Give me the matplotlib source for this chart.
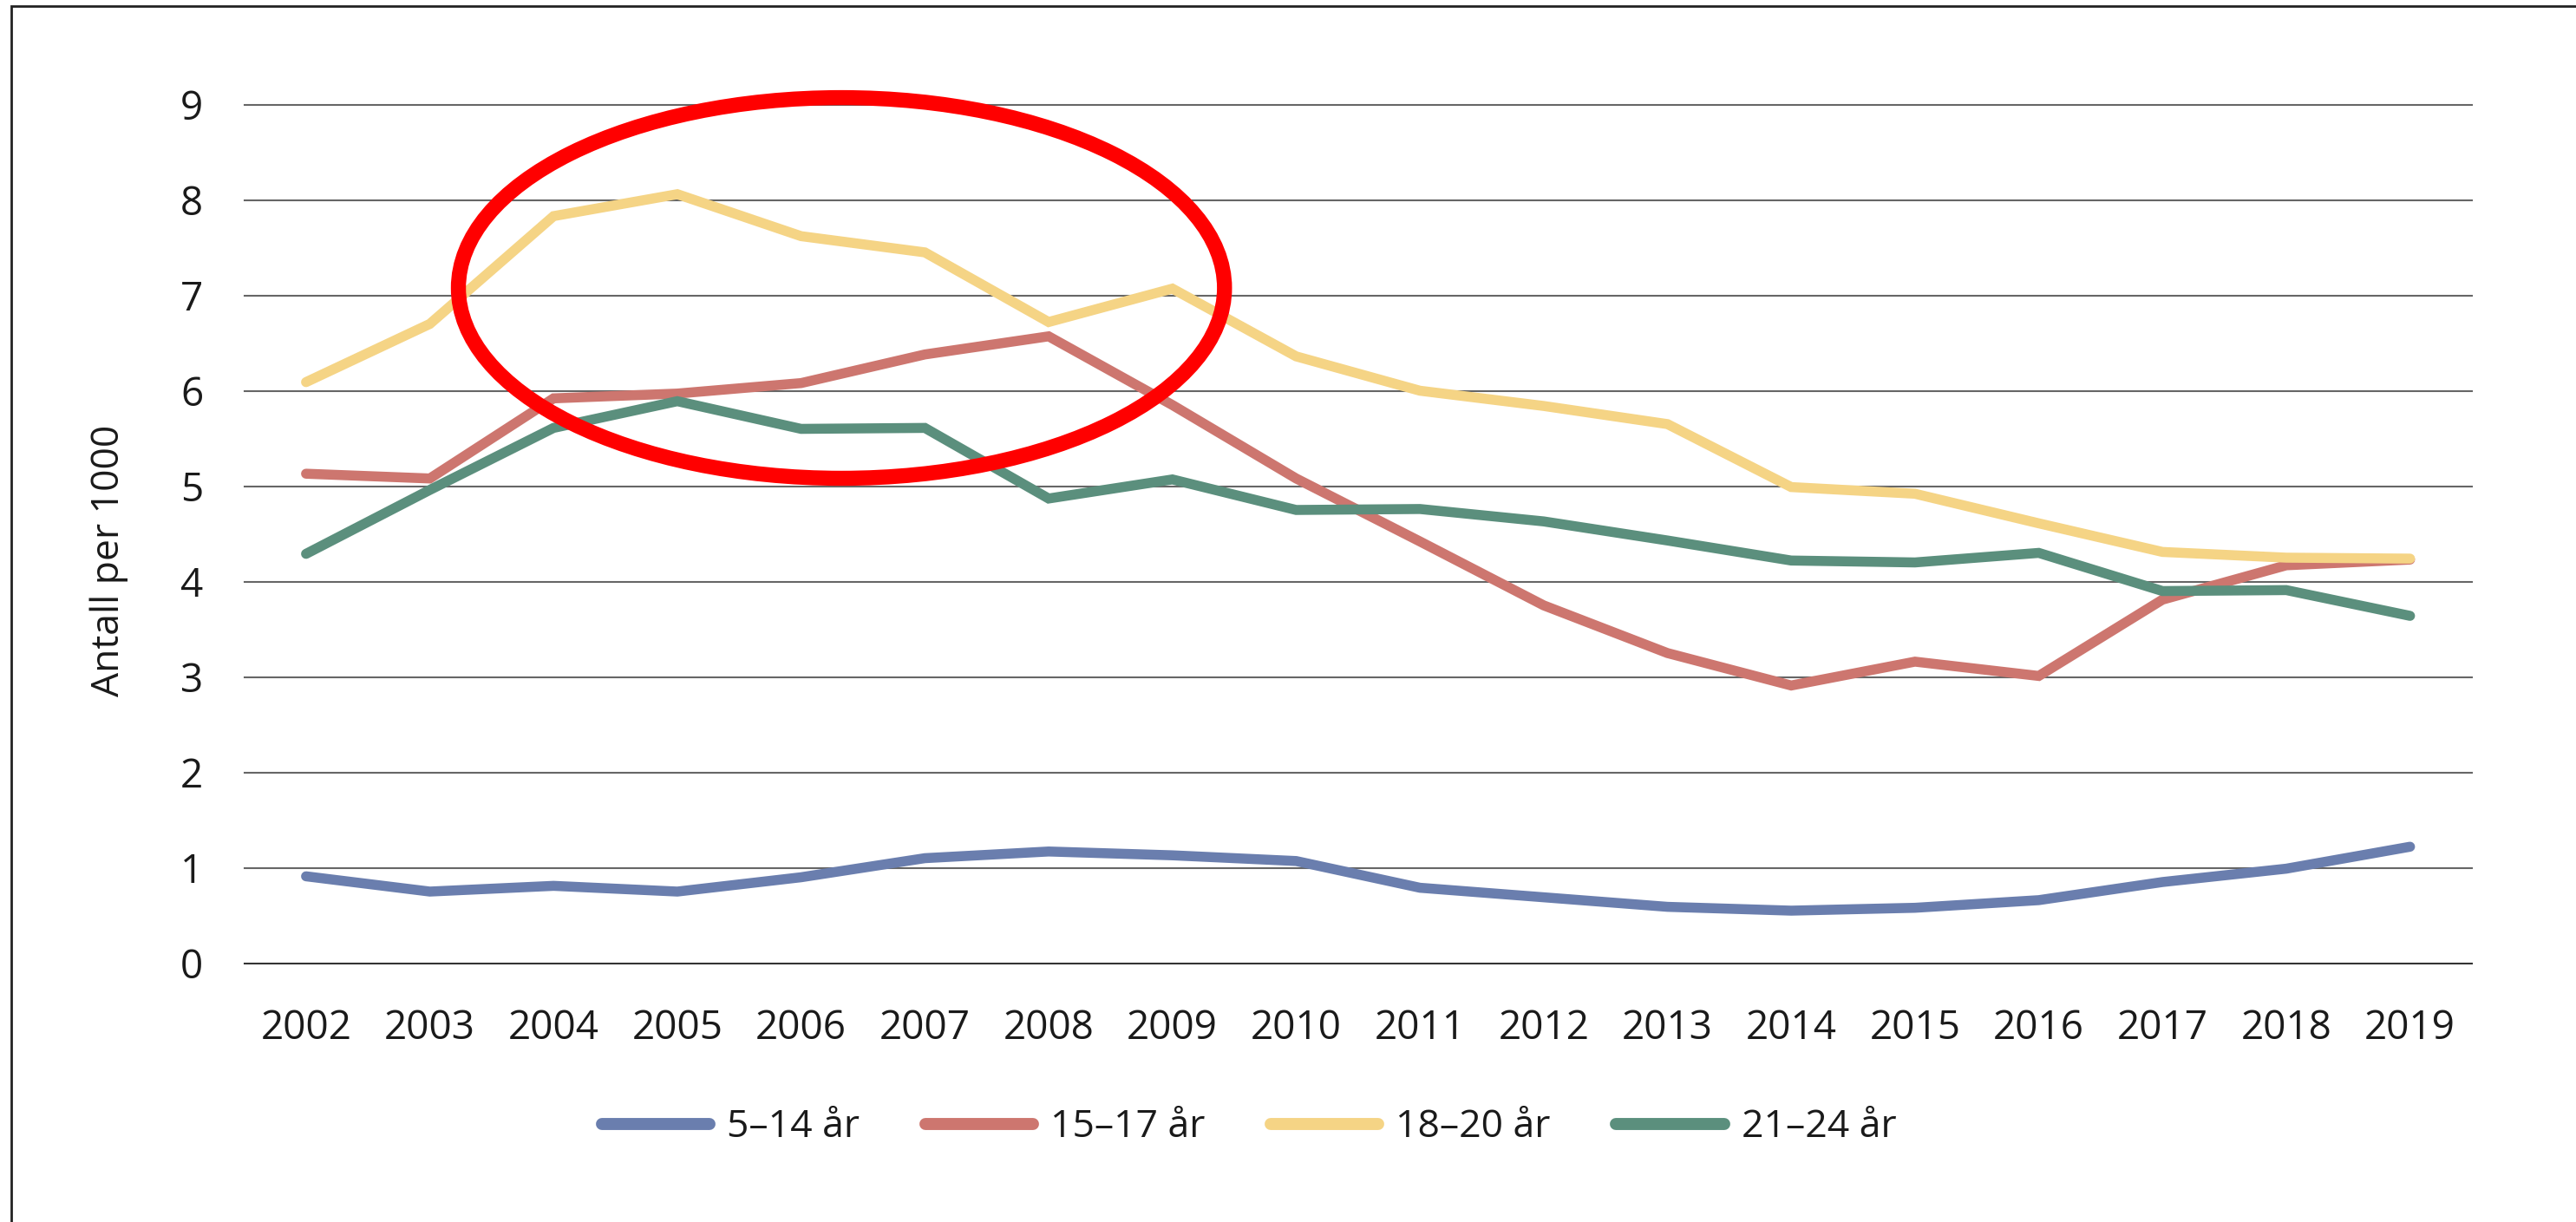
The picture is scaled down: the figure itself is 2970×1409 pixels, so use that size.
import numpy as np
import matplotlib
matplotlib.use("Agg")
import matplotlib.pyplot as plt
import matplotlib.patches as patches

plt.rcParams['font.family'] = ['Open Sans', 'DejaVu Sans']

# ---------------------------------------------------------------------------
# Data (antall per 1000)
years = [2002, 2003, 2004, 2005, 2006, 2007, 2008, 2009, 2010,
         2011, 2012, 2013, 2014, 2015, 2016, 2017, 2018, 2019]

age_5_14 = [0.91, 0.75, 0.81, 0.75, 0.90, 1.10, 1.17, 1.13, 1.07,
            0.79, 0.69, 0.59, 0.55, 0.58, 0.66, 0.85, 0.99, 1.22]
age_15_17 = [5.13, 5.08, 5.92, 5.97, 6.08, 6.38, 6.57, 5.85, 5.08,
             4.42, 3.75, 3.25, 2.91, 3.16, 3.01, 3.81, 4.17, 4.23]
age_18_20 = [6.09, 6.70, 7.83, 8.06, 7.62, 7.45, 6.72, 7.07, 6.36,
             6.00, 5.84, 5.65, 4.99, 4.92, 4.61, 4.31, 4.25, 4.24]
age_21_24 = [4.29, 4.96, 5.61, 5.89, 5.60, 5.61, 4.87, 5.07, 4.75,
             4.76, 4.63, 4.43, 4.22, 4.20, 4.30, 3.90, 3.91, 3.64]

series_labels = ['5–14 år', '15–17 år', '18–20 år', '21–24 år']
series_colors = ['#6a7eae', '#cd766f', '#f5d485', '#5b8f7d']

# ---------------------------------------------------------------------------
# Figure and axes
W, H = 2970, 1409
fig = plt.figure(figsize=(W / 100, H / 100), dpi=100)
fig.patch.set_facecolor('white')

ax_left, ax_right, ax_top, ax_bottom = 281.5, 2850, 120.5, 1110.5
ax = fig.add_axes([ax_left / W, 1 - ax_bottom / H,
                   (ax_right - ax_left) / W, (ax_bottom - ax_top) / H])

x = np.arange(len(years))
ax.set_xlim(-0.5, len(years) - 0.5)
ax.set_ylim(0, 9)

# horizontal grid lines
for v in range(1, 10):
    ax.axhline(v, color='#666666', lw=1.5, zorder=1, clip_on=False)
ax.axhline(0, color='#333333', lw=1.5, zorder=1, clip_on=False)

lines = []
for vals, lab, col in zip([age_5_14, age_15_17, age_18_20, age_21_24],
                          series_labels, series_colors):
    ln, = ax.plot(x, vals, color=col, lw=8.3, label=lab,
                  solid_capstyle='round', solid_joinstyle='miter', zorder=3)
    lines.append(ln)

for s in ax.spines.values():
    s.set_visible(False)

ax.set_xticks(x)
ax.set_xticklabels([str(y) for y in years])
ax.set_yticks(range(10))
ax.tick_params(axis='both', length=0, labelsize=33, colors='#1a1a1a')
ax.tick_params(axis='x', pad=38)
ax.tick_params(axis='y', pad=34)

fig.text(126 / W, 1 - 646 / H, 'Antall per 1000', rotation=90,
         ha='center', va='center', fontsize=32, color='#1a1a1a')

# red highlight ellipse
ell = patches.Ellipse((4.326, 7.077), 6.19, 3.99, fill=False,
                      edgecolor='#ff0000', lw=12.5, zorder=5, clip_on=False)
ax.add_patch(ell)

# legend
leg = ax.legend(handles=lines, ncol=4, frameon=False, fontsize=32,
                loc='center', bbox_to_anchor=(1440 / W, 1 - 1300 / H),
                bbox_transform=fig.transFigure, handlelength=2.8,
                handletextpad=0.45, columnspacing=1.7)
for h in leg.legend_handles:
    h.set_linewidth(10)
for t in leg.get_texts():
    t.set_color('#1a1a1a')

# outer frame (cut at right and bottom)
frame = patches.Rectangle((13 / W, -0.02), 1.05, 1 - 7 / H + 0.02,
                          transform=fig.transFigure, fill=False,
                          edgecolor='#222222', lw=2.0)
fig.add_artist(frame)

fig.savefig('out.png', dpi=100)
